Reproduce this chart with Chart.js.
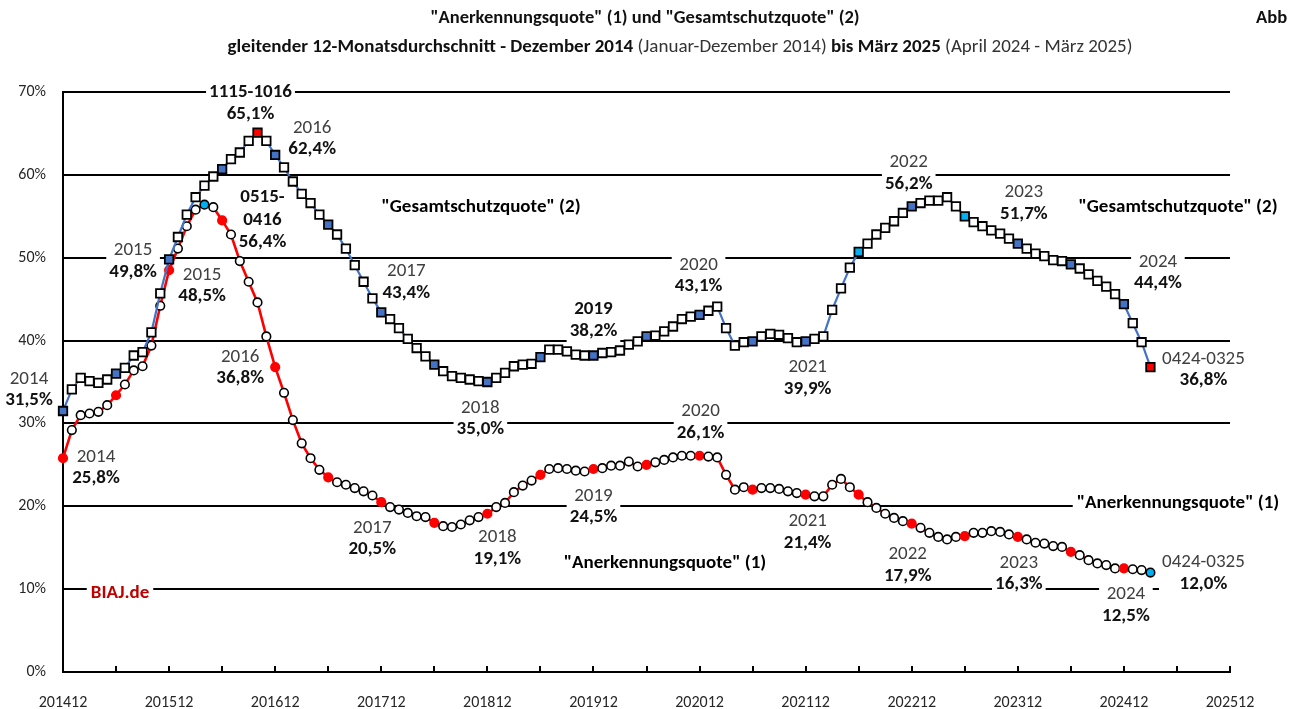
<!DOCTYPE html>
<html><head><meta charset="utf-8">
<script src="https://cdn.jsdelivr.net/npm/chart.js@4"></script>
<style>
html,body{margin:0;padding:0;background:#fff;}
canvas{display:block;}
</style></head>
<body><canvas id="c" width="1289" height="709"></canvas>
<script>
// ---------- DATA ----------
// monthly categories 201412 .. 202512
const categories = [];
for (let y = 2014, m = 12; y * 100 + m <= 202512; ) {
  categories.push(String(y) + (m < 10 ? '0' + m : m));
  m++; if (m > 12) { m = 1; y++; }
}
const tickLabels = ['201412','201512','201612','201712','201812','201912','202012','202112','202212','202312','202412','202512'];

// "Gesamtschutzquote" (2), %, 12-month moving average, 201412..202503
const gesamt = [
 31.5,34.1,35.5,35.1,34.9,35.3,36.0,36.7,38.2,38.6,41.0,45.7,
 49.8,52.5,55.2,57.3,58.7,59.8,60.7,61.9,62.7,64.1,65.1,64.1,
 62.4,60.9,59.2,57.7,56.6,55.2,54.0,52.8,51.1,49.1,47.1,45.1,
 43.4,42.6,41.5,40.2,39.1,38.1,37.1,36.3,35.7,35.5,35.3,35.1,
 35.0,35.5,36.1,36.9,37.1,37.2,38.0,38.9,38.9,38.7,38.3,38.2,
 38.2,38.5,38.6,38.8,39.5,39.9,40.5,40.6,41.1,41.7,42.6,42.9,
 43.1,43.6,44.1,41.5,39.4,39.8,39.9,40.5,40.8,40.7,40.3,39.8,
 39.9,40.2,40.5,43.7,46.3,48.8,50.7,51.7,52.8,53.6,54.4,55.4,
 56.2,56.6,56.9,56.9,57.3,56.2,55.0,54.3,53.8,53.3,52.9,52.3,
 51.7,51.1,50.5,50.2,49.7,49.6,49.2,48.7,48.0,47.2,46.5,45.6,
 44.4,42.1,39.8,36.8
];
// "Anerkennungsquote" (1), %
const anerkennung = [
 25.8,29.2,31.0,31.2,31.4,32.2,33.4,34.7,36.4,36.9,39.4,44.2,
 48.5,51.1,53.8,55.8,56.4,56.1,54.5,52.8,49.6,47.1,44.6,40.5,
 36.8,33.7,30.4,27.6,25.8,24.4,23.5,22.9,22.6,22.2,21.8,21.3,
 20.5,19.9,19.6,19.2,18.8,18.7,18.0,17.6,17.5,17.8,18.3,18.7,
 19.1,19.9,20.4,21.7,22.5,23.1,23.8,24.5,24.6,24.5,24.3,24.2,
 24.5,24.6,24.9,24.9,25.4,24.8,25.0,25.3,25.6,25.9,26.1,26.1,
 26.1,26.0,25.9,23.8,22.0,22.3,22.0,22.2,22.2,22.1,21.8,21.6,
 21.4,21.2,21.2,22.6,23.3,22.3,21.4,20.5,19.8,19.1,18.6,18.2,
 17.9,17.4,16.8,16.3,16.0,16.3,16.4,16.8,16.8,17.0,16.9,16.6,
 16.3,16.0,15.6,15.5,15.2,15.1,14.5,14.1,13.5,13.1,12.9,12.5,
 12.5,12.4,12.3,12.0
];
// highlighted markers (indices)
const halfYearIdx = [0,6,12,18,24,30,36,42,48,54,60,66,72,78,84,90,96,102,108,114,120];
const gesamtRedIdx = [22,123];
const gesamtCyanIdx = [90,102];
const anerkCyanIdx = [16,123];

// ---------- STYLE ----------
const FONT = 'Carlito, Lato, "Open Sans", sans-serif';
const BLUE = '#4472C4', RED = '#FF0000', CYAN = '#00B0F0';
const LABEL_SIZE = 19;

// data labels: dataset, index, offset from point, lines [text, bold]
const pointLabels = [
 {ds:0,i:22,dx:-7,dy:-40,lines:[['1115-1016',1],['65,1%',1]]},
 {ds:0,i:24,dx:37,dy:-27,lines:[['2016',0],['62,4%',1]]},
 {ds:1,i:16,dx:58,dy:-7,lh:22.5,lines:[['0515-',1],['0416',1],['56,4%',1]]},
 {ds:0,i:12,dx:-36,dy:-9,lines:[['2015',0],['49,8%',1]]},
 {ds:1,i:12,dx:33,dy:5,lines:[['2015',0],['48,5%',1]]},
 {ds:1,i:24,dx:-35,dy:-10,lines:[['2016',0],['36,8%',1]]},
 {ds:0,i:0,dx:-34,dy:-32,lines:[['2014',0],['31,5%',1]]},
 {ds:1,i:0,dx:33,dy:-1,lines:[['2014',0],['25,8%',1]]},
 {ds:0,i:36,dx:25,dy:-41,lines:[['2017',0],['43,4%',1]]},
 {ds:0,i:48,dx:-7,dy:26,lines:[['2018',0],['35,0%',1]]},
 {ds:0,i:60,dx:0,dy:-46,lines:[['2019',1],['38,2%',1]]},
 {ds:0,i:72,dx:-1,dy:-50,lines:[['2020',0],['43,1%',1]]},
 {ds:0,i:84,dx:2,dy:26,lines:[['2021',0],['39,9%',1]]},
 {ds:0,i:96,dx:-3,dy:-44,lines:[['2022',0],['56,2%',1]]},
 {ds:0,i:108,dx:6,dy:-51,lines:[['2023',0],['51,7%',1]]},
 {ds:0,i:120,dx:34,dy:-42,lines:[['2024',0],['44,4%',1]]},
 {ds:0,i:123,dx:53,dy:-8,lines:[['0424-0325',0],['36,8%',1]]},
 {ds:1,i:36,dx:-9,dy:26,lines:[['2017',0],['20,5%',1]]},
 {ds:1,i:48,dx:10,dy:24,lines:[['2018',0],['19,1%',1]]},
 {ds:1,i:60,dx:0,dy:27,lines:[['2019',0],['24,5%',1]]},
 {ds:1,i:72,dx:1,dy:-44,lines:[['2020',0],['26,1%',1]]},
 {ds:1,i:84,dx:2,dy:27,lines:[['2021',0],['21,4%',1]]},
 {ds:1,i:96,dx:-4,dy:31,lines:[['2022',0],['17,9%',1]]},
 {ds:1,i:108,dx:1,dy:26,lines:[['2023',0],['16,3%',1]]},
 {ds:1,i:120,dx:2,dy:26,lines:[['2024',0],['12,5%',1]]},
 {ds:1,i:123,dx:53,dy:-10,lines:[['0424-0325',0],['12,0%',1]]}
];
const staticLabels = [
 {x:481,y:207,text:'"Gesamtschutzquote" (2)',color:'#000'},
 {x:1178,y:207,text:'"Gesamtschutzquote" (2)',color:'#000'},
 {x:665,y:563,text:'"Anerkennungsquote" (1)',color:'#000'},
 {x:1178,y:503,text:'"Anerkennungsquote" (1)',color:'#000'},
 {x:120,y:593,text:'BIAJ.de',color:'#C00000'}
];

function boxText(ctx, x, yFirst, lines, lh, size) {
  let w = 0;
  lines.forEach(([t,b]) => { ctx.font = (b?'bold ':'') + size + 'px ' + FONT; w = Math.max(w, ctx.measureText(t).width); });
  const top = yFirst - 11, bottom = yFirst + (lines.length-1)*lh + 11;
  ctx.fillStyle = '#fff';
  ctx.fillRect(x - w/2 - 3, top, w + 6, bottom - top);
  ctx.textAlign = 'center'; ctx.textBaseline = 'middle';
  lines.forEach(([t,b], k) => {
    ctx.font = (b?'bold ':'') + size + 'px ' + FONT;
    ctx.fillStyle = b ? '#111' : '#404040';
    ctx.fillText(t, x, yFirst + k*lh);
  });
}

const labelPlugin = {
  id: 'labels',
  beforeDatasetsDraw(chart) {
    const ctx = chart.ctx;
    const xs = chart.scales.x, area = chart.chartArea;
    ctx.save();
    // inward tick marks every 6 months on the category axis
    ctx.strokeStyle = '#000'; ctx.lineWidth = 2;
    categories.forEach((c, i) => {
      if (i > 0 && i % 6 === 0) {
        const x = Math.round(xs.getPixelForValue(i));
        ctx.beginPath(); ctx.moveTo(x, area.bottom); ctx.lineTo(x, area.bottom - 6); ctx.stroke();
      }
    });
    pointLabels.forEach(L => {
      const el = chart.getDatasetMeta(L.ds).data[L.i];
      boxText(ctx, el.x + L.dx, el.y + L.dy, L.lines, L.lh || 21.5, LABEL_SIZE);
    });
    staticLabels.forEach(S => {
      ctx.font = 'bold ' + LABEL_SIZE + 'px ' + FONT;
      const w = ctx.measureText(S.text).width;
      ctx.fillStyle = '#fff';
      ctx.fillRect(S.x - w/2 - 4, S.y - 11, w + 8, 22);
      ctx.fillStyle = S.color; ctx.textAlign = 'center'; ctx.textBaseline = 'middle';
      ctx.fillText(S.text, S.x, S.y);
    });
    ctx.restore();
  },
  afterDraw(chart) {
    const ctx = chart.ctx;
    ctx.save();
    ctx.textBaseline = 'middle'; ctx.fillStyle = '#111';
    ctx.font = 'bold 18.5px ' + FONT; ctx.textAlign = 'center';
    ctx.fillText('"Anerkennungsquote" (1) und "Gesamtschutzquote" (2)', 645, 18);
    ctx.textAlign = 'left';
    ctx.fillText('Abb', 1256, 18);
    const parts = [
      ['gleitender 12-Monatsdurchschnitt - Dezember 2014', 1],
      [' (Januar-Dezember 2014)', 0],
      [' bis März 2025', 1],
      [' (April 2024 - März 2025)', 0]
    ];
    const size = 19;
    let total = 0;
    parts.forEach(([t,b]) => { ctx.font = (b?'bold ':'') + size + 'px ' + FONT; total += ctx.measureText(t).width; });
    let x = 680 - total/2;
    parts.forEach(([t,b]) => {
      ctx.font = (b?'bold ':'') + size + 'px ' + FONT;
      ctx.fillStyle = b ? '#111' : '#333';
      ctx.fillText(t, x, 47);
      x += ctx.measureText(t).width;
    });
    ctx.restore();
  }
};

function gesamtFill(c) {
  const i = c.dataIndex;
  if (gesamtRedIdx.includes(i)) return RED;
  if (gesamtCyanIdx.includes(i)) return CYAN;
  if (halfYearIdx.includes(i)) return BLUE;
  return '#fff';
}
function anerkFill(c) {
  const i = c.dataIndex;
  if (anerkCyanIdx.includes(i)) return CYAN;
  if (halfYearIdx.includes(i)) return RED;
  return '#fff';
}
function anerkBorder(c) {
  const i = c.dataIndex;
  if (anerkCyanIdx.includes(i)) return '#000';
  if (halfYearIdx.includes(i)) return RED;
  return '#000';
}

new Chart(document.getElementById('c'), {
  type: 'line',
  data: {
    labels: categories,
    datasets: [
      { label: 'Gesamtschutzquote', data: gesamt, borderColor: BLUE, borderWidth: 2.2,
        pointStyle: 'rect', pointRadius: 6, pointBorderWidth: 1.8,
        pointBackgroundColor: gesamtFill, pointBorderColor: '#000', tension: 0, clip: false },
      { label: 'Anerkennungsquote', data: anerkennung, borderColor: RED, borderWidth: 2.6,
        pointStyle: 'circle', pointRadius: 4.3, pointBorderWidth: 1.6,
        pointBackgroundColor: anerkFill, pointBorderColor: anerkBorder, tension: 0, clip: false }
    ]
  },
  options: {
    responsive: false, animation: false, devicePixelRatio: 1,
    layout: { padding: { left: 0, right: 59, top: 92, bottom: 0 } },
    plugins: { legend: { display: false }, title: { display: false }, tooltip: { enabled: false } },
    scales: {
      x: {
        type: 'category', offset: false,
        afterFit(s) { s.height = 37; },
        grid: { drawOnChartArea: false, drawTicks: false, color: 'rgba(0,0,0,0)' },
        border: { display: true, color: '#000', width: 2 },
        ticks: { autoSkip: false, maxRotation: 0, minRotation: 0, padding: 21,
                 color: '#262626', font: { family: FONT, size: 16 },
                 callback: (v, i) => (tickLabels.includes(categories[i]) ? categories[i] : '') }
      },
      y: {
        min: 0, max: 70,
        afterFit(s) { s.width = 63; },
        grid: { color: '#000', lineWidth: 2, drawTicks: false },
        border: { display: true, color: '#000', width: 2 },
        ticks: { stepSize: 10, padding: 17, color: '#262626', font: { family: FONT, size: 16 },
                 callback: v => v + '%' }
      }
    }
  },
  plugins: [labelPlugin]
});
</script>
</body></html>
